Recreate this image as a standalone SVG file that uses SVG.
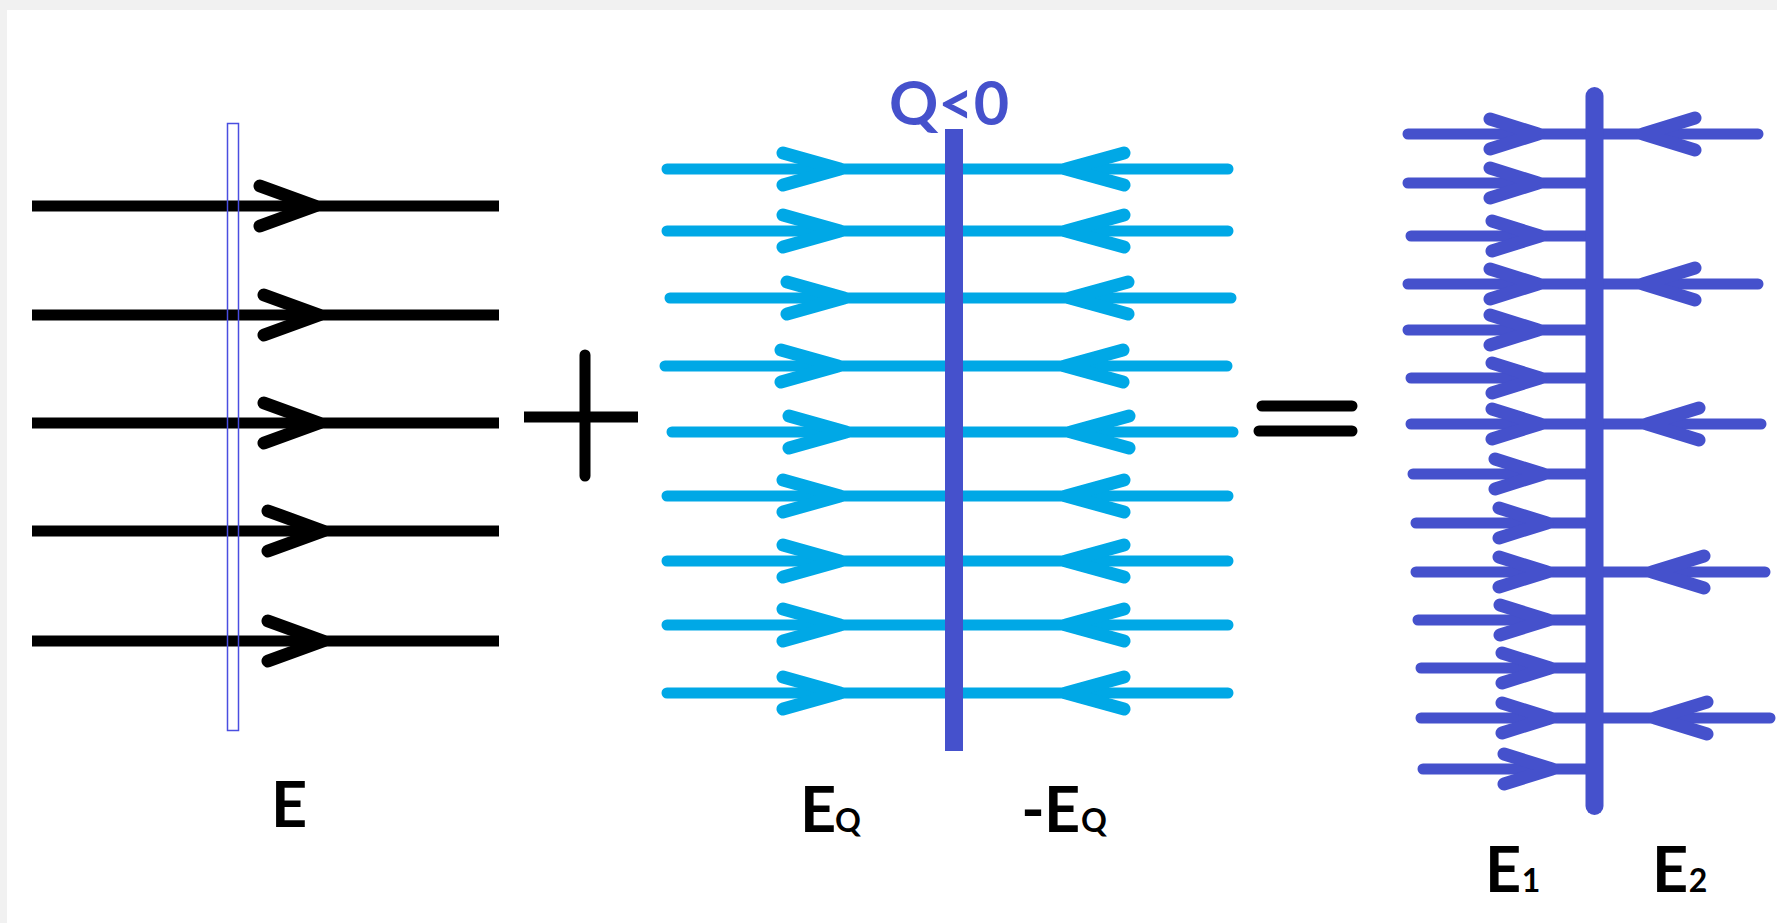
<svg xmlns="http://www.w3.org/2000/svg" width="1777" height="923" viewBox="0 0 1777 923">
<defs>
<style>
.blk{stroke:#000;stroke-width:11;fill:none;stroke-linecap:butt}
.blkr{stroke:#000;stroke-width:13;fill:none;stroke-linecap:round;stroke-linejoin:round}
.cy{stroke:#00a8e6;stroke-width:11;fill:none;stroke-linecap:round;stroke-linejoin:round}
.cyh{stroke:#00a8e6;stroke-width:13;fill:none;stroke-linecap:round;stroke-linejoin:round}
.bl{stroke:#4551cc;stroke-width:11;fill:none;stroke-linecap:round;stroke-linejoin:round}
.blh{stroke:#4551cc;stroke-width:13;fill:none;stroke-linecap:round;stroke-linejoin:round}
.lbl{font-family:Lato,"Open Sans","Liberation Sans",sans-serif;font-weight:bold;font-size:63px;fill:#000;text-anchor:middle}
.sub{font-size:32px}
</style>
</defs>
<rect x="0" y="0" width="1777" height="923" fill="#f1f1f1"/>
<rect x="7" y="10" width="1770" height="913" fill="#ffffff"/>

<g id="connectors">
  <g id="field-E">
    <path class="blk" d="M32,206H499M32,315H499M32,423H499M32,531H499M32,641H499"/>
    <path class="blkr" d="M260,186L315,206L260,226M264,295L319,315L264,335M264,403L319,423L264,443M268,511L323,531L268,551M268,621L323,641L268,661"/>
  </g>
  <g id="field-EQ">
    <path class="cy" d="M667,169H1228M667,231H1228M670,298H1231M665,366H1227M672,432H1233M667,496H1228M667,561H1228M667,625H1228M667,693H1228"/>
    <path class="cyh" d="M783,153L840,169L783,185M783,215L840,231L783,247M787,282L844,298L787,314M781,350L838,366L781,382M789,416L846,432L789,448M783,480L840,496L783,512M783,545L840,561L783,577M783,609L840,625L783,641M783,677L840,693L783,709"/>
    <path class="cyh" d="M1124,153L1066,169L1124,185M1124,215L1066,231L1124,247M1128,282L1070,298L1128,314M1123,350L1065,366L1123,382M1129,416L1071,432L1129,448M1124,480L1066,496L1124,512M1124,545L1066,561L1124,577M1124,609L1066,625L1124,641M1124,677L1066,693L1124,709"/>
  </g>
  <g id="field-E1">
    <path class="bl" d="M1408,134H1590M1408,183H1590M1411,236H1590M1408,284H1590M1408,330H1590M1411,378H1590M1411,424H1590M1413,474H1590M1416,523H1590M1416,572H1590M1418,620H1590M1421,668H1590M1421,718H1590M1423,769H1590"/>
    <path class="blh" d="M1490,119L1538,134L1490,149M1490,168L1538,183L1490,198M1492,221L1540,236L1492,251M1490,269L1538,284L1490,299M1490,315L1538,330L1490,345M1492,363L1540,378L1492,393M1492,409L1540,424L1492,439M1495,459L1543,474L1495,489M1499,508L1547,523L1499,538M1499,557L1547,572L1499,587M1500,605L1548,620L1500,635M1502,653L1550,668L1502,683M1502,703L1550,718L1502,733M1504,754L1552,769L1504,784"/>
  </g>
  <g id="field-E2">
    <path class="bl" d="M1600,134H1758M1600,284H1758M1600,424H1761M1600,572H1765M1600,718H1770"/>
    <path class="blh" d="M1695,118L1643,134L1695,150M1695,268L1643,284L1695,300M1699,408L1647,424L1699,440M1704,556L1652,572L1704,588M1707,702L1655,718L1707,734"/>
  </g>
</g>

<g id="plate-left">
  <rect x="227.5" y="123.5" width="11" height="607" fill="none" stroke="#4a4ee0" stroke-width="1.5"/>
</g>
<g id="label-E">
  <text class="lbl" x="289" y="827">E</text>
</g>

<g id="plus-sign">
  <path d="M524,417H638" stroke="#000" stroke-width="11"/>
  <path d="M585,355V476" stroke="#000" stroke-width="11" stroke-linecap="round"/>
</g>

<g id="plate-Q">
  <rect x="945" y="129" width="18" height="622" fill="#4551cc"/>
  <text x="949" y="125" font-family="Lato,'Open Sans','Liberation Sans',sans-serif" font-weight="bold" font-size="61" fill="#4551cc" text-anchor="middle">Q&lt;0</text>
</g>
<g id="label-EQ">
  <text class="lbl" x="818" y="832">E<tspan class="sub" x="848">Q</tspan></text>
</g>
<g id="label-minus-EQ">
  <text class="lbl" x="1033" y="832">-<tspan x="1062">E</tspan><tspan class="sub" x="1094">Q</tspan></text>
</g>

<g id="equals-sign">
  <path d="M1262,406H1352M1259,431H1352" stroke="#000" stroke-width="11" stroke-linecap="round"/>
</g>

<g id="plate-result">
  <path d="M1594.5,96V806" stroke="#4551cc" stroke-width="18" stroke-linecap="round"/>
</g>
<g id="label-E1">
  <text class="lbl" x="1503" y="892">E<tspan class="sub" x="1531">1</tspan></text>
</g>
<g id="label-E2">
  <text class="lbl" x="1670" y="892">E<tspan class="sub" x="1698">2</tspan></text>
</g>
</svg>
